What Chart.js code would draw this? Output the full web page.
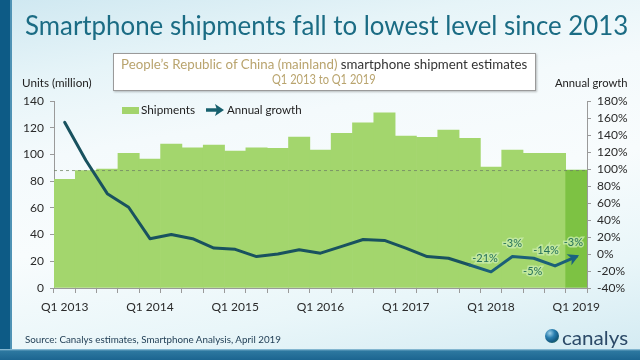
<!DOCTYPE html>
<html>
<head>
<meta charset="utf-8">
<script src="https://cdn.jsdelivr.net/npm/chart.js@4.4.1/dist/chart.umd.min.js"></script>
<style>
  html, body { margin:0; padding:0; }
  body { width:640px; height:360px; overflow:hidden; position:relative; font-family: Lato, "Open Sans", sans-serif;
    background: linear-gradient(170deg, #cfe8f1 0%, #e6f4f8 18%, #f4fafc 35%, #f8fcfd 55%, #e9f6f9 78%, #d2eaf2 100%); }
  #strip { position:absolute; left:0; top:0; width:10px; height:360px; background:#0d5b86; }
  #strip2 { position:absolute; left:10px; top:0; width:2px; height:360px; background:#4f93b5; }
  #bottom { position:absolute; left:0; top:349px; width:640px; height:11px; background:linear-gradient(180deg,#9fcbe0 0px,#2d78a0 2px,#1c6590 100%); }
  #c { position:absolute; left:0; top:0; }
  .t { position:absolute; white-space:nowrap; transform-origin:left center; }
  #title { left:25px; top:10px; font-size:26px; line-height:30px; color:#1b6c84; }
  #box { position:absolute; left:113px; top:53px; width:421px; height:36px; background:#fff; border:1px solid #9a9a9a; box-shadow:1px 1px 2px rgba(0,0,0,0.25); }
  #sub1 { left:121px; top:56px; font-size:13px; line-height:16px; color:#333; }
  #sub2 { left:272px; top:71px; font-size:13px; line-height:16px; color:#b9a46e; }
  .tan { color:#b9a46e; }
  #units { left:22px; top:75px; font-size:12px; line-height:16px; color:#222; }
  #annual { left:555px; top:75px; font-size:12px; line-height:16px; color:#222; }
  #leg1box { position:absolute; left:122px; top:107px; width:17px; height:7px; background:#a3d46c; }
  #leg1 { left:141px; top:102px; font-size:12px; line-height:16px; color:#222; }
  #legArrow { position:absolute; left:205px; top:103px; }
  #leg2 { left:227px; top:102px; font-size:12px; line-height:16px; color:#222; }
  #source { left:25px; top:332px; font-size:10px; line-height:14px; color:#1d3b52; }
  #logoDot { position:absolute; left:545px; top:329px; width:14px; height:14px; border-radius:50%;
    background: radial-gradient(circle at 35% 30%, #9ed0e8 0%, #2a7fb0 35%, #145a82 65%, #2f7a3a 100%); }
  #logo { left:562px; top:325px; font-size:20px; line-height:24px; color:#2c4a68; }
</style>
</head>
<body>
<div id="strip"></div><div id="strip2"></div>
<div id="bottom"></div>
<canvas id="c" width="640" height="360"></canvas>
<div class="t" id="title" data-w="603">Smartphone shipments fall to lowest level since 2013</div>
<div id="box"></div>
<div class="t" id="sub1" data-w="406"><span class="tan">People’s Republic of China (mainland)</span> smartphone shipment estimates</div>
<div class="t" id="sub2" data-w="104">Q1 2013 to Q1 2019</div>
<div class="t" id="units" data-w="70">Units (million)</div>
<div class="t" id="annual" data-w="73">Annual growth</div>
<div id="leg1box"></div>
<div class="t" id="leg1" data-w="54">Shipments</div>
<svg id="legArrow" width="20" height="14" viewBox="0 0 20 14"><path d="M1 7 H14" stroke="#17606e" stroke-width="3.5"/><path d="M10 1 L19 7 L10 13 L12 7 Z" fill="#17606e"/></svg>
<div class="t" id="leg2" data-w="75">Annual growth</div>
<div class="t" id="source" data-w="256">Source: Canalys estimates, Smartphone Analysis, April 2019</div>
<div id="logoDot"></div>
<div class="t" id="logo" data-w="66">canalys</div>
<script>
// ---- data ----
const quarters = [
  'Q1 2013','Q2 2013','Q3 2013','Q4 2013',
  'Q1 2014','Q2 2014','Q3 2014','Q4 2014',
  'Q1 2015','Q2 2015','Q3 2015','Q4 2015',
  'Q1 2016','Q2 2016','Q3 2016','Q4 2016',
  'Q1 2017','Q2 2017','Q3 2017','Q4 2017',
  'Q1 2018','Q2 2018','Q3 2018','Q4 2018',
  'Q1 2019'
];
const shipments = [81.4, 88, 89, 100.8, 96.5, 107.8, 105, 107, 102.5, 105, 104.5, 113,
  103.3, 115.8, 123.7, 131.2, 113.8, 112.8, 118.3, 112, 90.5, 103.3, 100.8, 100.8, 88.3];
const growth = [155, 110, 71, 55, 18, 23, 18, 7, 5.5, -3, 0, 5,
  1, 9, 17, 16, 7, -3, -5, -13, -21, -3, -5, -14, -3];
const growthLabelIdx = [20, 21, 22, 23, 24];
const leftTicks = { min: 0, max: 140, step: 20 };
const rightTicks = { min: -40, max: 180, step: 20 };
const referenceLevel = 88.3; // Q1 2019 level (dashed line)

// fit text widths
document.querySelectorAll('[data-w]').forEach(el => {
  const w = el.scrollWidth, target = +el.dataset.w;
  if (w > 0) el.style.transform = 'scaleX(' + (target / w) + ')';
});

const labelOffsets = { 20: [-6, -13], 21: [0, -13], 22: [-1, 13], 23: [-9, -15], 24: [-3, -14] };

const extras = {
  id: 'extras',
  beforeDatasetDraw(chart, args) {
    if (args.index !== 0) return;
    const { ctx, chartArea } = chart;
    const y = chart.scales.y.getPixelForValue(referenceLevel);
    ctx.save();
    ctx.strokeStyle = 'rgba(110,130,100,0.75)';
    ctx.lineWidth = 1;
    ctx.setLineDash([3, 3]);
    ctx.beginPath();
    ctx.moveTo(chartArea.left, y + 0.5);
    ctx.lineTo(chartArea.right, y + 0.5);
    ctx.stroke();
    ctx.restore();
  },
  afterDatasetsDraw(chart) {
    const { ctx } = chart;
    const meta = chart.getDatasetMeta(0);
    const pts = meta.data;
    const n = pts.length;
    // arrowhead
    const a = pts[n - 2], b = pts[n - 1];
    const ang = Math.atan2(b.y - a.y, b.x - a.x);
    const L = 11, W = 6;
    ctx.save();
    ctx.fillStyle = '#1a6280';
    ctx.translate(b.x, b.y);
    ctx.rotate(ang);
    ctx.beginPath();
    ctx.moveTo(3, 0);
    ctx.lineTo(3 - L, -W);
    ctx.lineTo(3 - L + 3, 0);
    ctx.lineTo(3 - L, W);
    ctx.closePath();
    ctx.fill();
    ctx.restore();
    // labels
    ctx.save();
    ctx.font = '11px Lato, "Open Sans", sans-serif';
    ctx.textAlign = 'center';
    ctx.textBaseline = 'middle';
    growthLabelIdx.forEach(i => {
      const p = pts[i];
      const off = labelOffsets[i] || [0, -12];
      const txt = Math.round(growth[i]) + '%';
      ctx.lineWidth = 3;
      ctx.strokeStyle = 'rgba(200,235,170,0.8)';
      ctx.strokeText(txt, p.x + off[0], p.y + off[1]);
      ctx.fillStyle = '#24705a';
      ctx.fillText(txt, p.x + off[0], p.y + off[1]);
    });
    ctx.restore();
  }
};

const barColors = shipments.map((v, i) => i === shipments.length - 1 ? '#7dc243' : '#a3d66d');
const tickFont = { size: 12, family: 'Lato, "Open Sans", sans-serif' };

new Chart(document.getElementById('c'), {
  data: {
    labels: quarters,
    datasets: [
      { type: 'line', label: 'Annual growth', data: growth, yAxisID: 'y1', order: 0,
        borderColor: '#19525f', borderWidth: 3, pointRadius: 0, tension: 0,
        borderCapStyle: 'round', borderJoinStyle: 'round',
        segment: { borderColor: ctx => ctx.p0DataIndex >= 19 ? '#1b6078' : '#19525f' } },
      { type: 'bar', label: 'Shipments', data: shipments, yAxisID: 'y', order: 1,
        backgroundColor: barColors, borderWidth: 0, barPercentage: 1.0, categoryPercentage: 1.0 }
    ]
  },
  options: {
    responsive: false,
    animation: false,
    layout: { padding: { top: 101, left: 0, right: 0, bottom: 0 } },
    plugins: { legend: { display: false }, tooltip: { enabled: false }, title: { display: false } },
    scales: {
      x: {
        offset: true,
        grid: { offset: true, drawOnChartArea: false, drawTicks: true, tickLength: 5, color: '#9a9a9a' },
        border: { display: true, color: '#9a9a9a' },
        ticks: { autoSkip: false, maxRotation: 0, minRotation: 0, padding: 7, color: '#2a2a2a',
          font: tickFont,
          callback: (v, i) => quarters[i].startsWith('Q1') ? quarters[i] : '' },
        afterFit: s => { s.height = 72; }
      },
      y: {
        position: 'left', min: leftTicks.min, max: leftTicks.max,
        grid: { drawOnChartArea: false, drawTicks: true, tickLength: 4, color: '#9a9a9a' },
        border: { display: true, color: '#9a9a9a' },
        ticks: { autoSkip: false, stepSize: leftTicks.step, padding: 6, color: '#2a2a2a', font: tickFont },
        afterFit: s => { s.width = 54; }
      },
      y1: {
        position: 'right', min: rightTicks.min, max: rightTicks.max,
        grid: { drawOnChartArea: false, drawTicks: true, tickLength: 4, color: '#9a9a9a' },
        border: { display: true, color: '#9a9a9a' },
        ticks: { autoSkip: false, stepSize: rightTicks.step, padding: 6, color: '#2a2a2a', font: tickFont,
          callback: v => v + '%' },
        afterFit: s => { s.width = 53; }
      }
    }
  },
  plugins: [extras]
});
</script>
</body>
</html>
